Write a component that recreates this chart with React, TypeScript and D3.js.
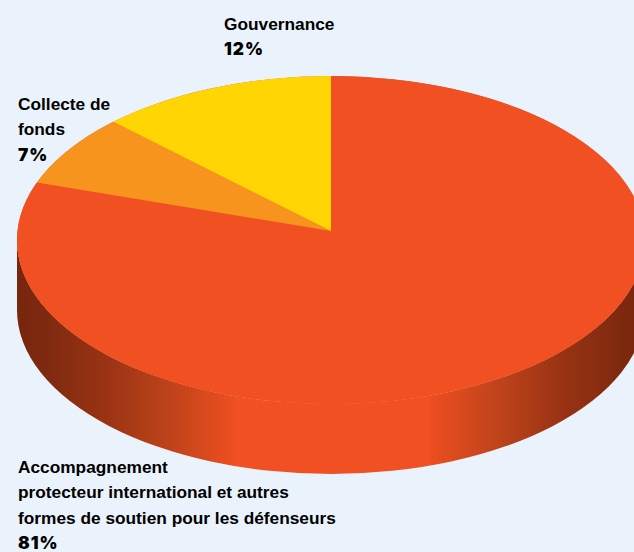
import React from "react";
import * as d3 from "d3";

const categories = ["Accompagnement protecteur", "Collecte de fonds", "Gouvernance"];
const shares = [80.7, 7.1, 12.2];
const colours = ["#F15022", "#F7941E", "#FFD503"];
const labelLines = [
  ["Accompagnement", "protecteur international et autres", "formes de soutien pour les défenseurs"],
  ["Collecte de", "fonds"],
  ["Gouvernance"],
];
const percentLabels = ["81%", "7%", "12%"];
const labelX = [18, 18, 224];
const labelY = [473, 110, 30];

const W = 634, H = 552;
const cx = 331, cy = 240, rx = 314, ry = 164, depth = 70, apexY = 231;

const px = (a: number) => cx + rx * Math.sin(a);
const py = (a: number) => cy - ry * Math.cos(a);
const off = (x: number) => (x - 17) / 617;

export default function App() {
  const arcs = d3.pie<number>().sort(null).value((d) => d)(shares);
  const lineH = 25.4;

  const slice = (a0: number, a1: number) => {
    const large = a1 - a0 > Math.PI ? 1 : 0;
    return `M${cx},${apexY}L${px(a0)},${py(a0)}A${rx},${ry} 0 ${large} 1 ${px(a1)},${py(a1)}Z`;
  };
  const wall = `M${cx - rx},${cy}A${rx},${ry} 0 0 0 ${cx + rx},${cy}L${cx + rx},${cy + depth}A${rx},${ry} 0 0 1 ${cx - rx},${cy + depth}Z`;

  return (
    <svg
      width={W}
      height={H}
      viewBox={`0 0 ${W} ${H}`}
      style={{ position: "absolute", left: 0, top: 0, background: "#EAF3FB" }}
      fontFamily="'Liberation Sans', Arial, sans-serif"
    >
      <defs>
        <linearGradient id="wallGrad" gradientUnits="userSpaceOnUse" x1={17} x2={634} y1={0} y2={0}>
          <stop offset={0} stopColor="#76260D" />
          <stop offset={off(45)} stopColor="#7E2A10" />
          <stop offset={off(100)} stopColor="#973213" />
          <stop offset={off(170)} stopColor="#BE431A" />
          <stop offset={off(235)} stopColor="#EE4F21" />
          <stop offset={off(235)} stopColor="#F15022" />
          <stop offset={off(431)} stopColor="#F15022" />
          <stop offset={off(431)} stopColor="#EC4E21" />
          <stop offset={off(500)} stopColor="#BE431A" />
          <stop offset={off(565)} stopColor="#973213" />
          <stop offset={off(610)} stopColor="#842B10" />
          <stop offset={1} stopColor="#78270D" />
        </linearGradient>
      </defs>
      <path d={wall} fill="url(#wallGrad)" />
      <ellipse cx={cx} cy={cy} rx={rx} ry={ry} fill={colours[0]} />
      {arcs.map((a, i) => (
        <path key={categories[i]} d={slice(a.startAngle, a.endAngle)} fill={colours[i]} />
      ))}
      {labelLines.map((lines, i) => (
        <text key={categories[i]} x={labelX[i]} y={labelY[i]} fontSize={17.3} fontWeight={700} fill="#000">
          {lines.map((l, j) => (
            <tspan key={l} x={labelX[i]} y={labelY[i] + j * lineH}>{l}</tspan>
          ))}
          <tspan
            x={labelX[i]}
            y={labelY[i] + lines.length * lineH}
            fontFamily="Inter, 'Liberation Sans', sans-serif"
            fontWeight={900}
            letterSpacing={1}
          >
            {percentLabels[i]}
          </tspan>
        </text>
      ))}
    </svg>
  );
}
